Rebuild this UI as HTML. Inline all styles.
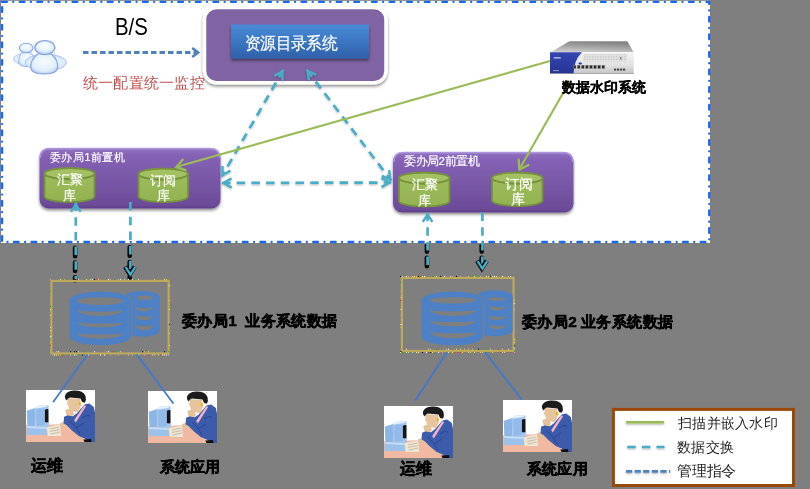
<!DOCTYPE html>
<html><head><meta charset="utf-8">
<style>
html,body{margin:0;padding:0;}
body{width:810px;height:489px;overflow:hidden;background:#7f7f7f;position:relative;font-family:"Liberation Sans",sans-serif;}
.t{position:absolute;white-space:nowrap;line-height:1;transform-origin:0 0;}
.sk{-webkit-text-stroke:0.45px #000;}
.sk2{-webkit-text-stroke:0.2px #000;}
.skw{-webkit-text-stroke:0.2px #fff;}
.w{color:#fff;font-size:11.7px;}
.c{color:#fff;font-size:13px;line-height:16px;text-align:center;width:60px;}
.b{font-weight:bold;color:#000;font-size:15.4px;}
.lg{color:#262626;font-size:14.6px;}
svg{position:absolute;left:0;top:0;}
</style></head><body>
<svg width="810" height="489" viewBox="0 0 810 489">
<defs>
  <linearGradient id="pg" x1="0" y1="0" x2="0" y2="1">
    <stop offset="0" stop-color="#9172c2"/>
    <stop offset="0.12" stop-color="#8562b5"/>
    <stop offset="0.93" stop-color="#6d4c99"/>
    <stop offset="1" stop-color="#5f3f8b"/>
  </linearGradient>
  <linearGradient id="bg" x1="0" y1="0" x2="0" y2="1">
    <stop offset="0" stop-color="#4a8bd8"/>
    <stop offset="1" stop-color="#2f61aa"/>
  </linearGradient>
  <linearGradient id="gc" x1="0" y1="0" x2="0" y2="1">
    <stop offset="0" stop-color="#9dbd5b"/>
    <stop offset="1" stop-color="#93b352"/>
  </linearGradient>
  <linearGradient id="srvtop" x1="0" y1="0" x2="1" y2="0">
    <stop offset="0" stop-color="#d8d8d8"/>
    <stop offset="0.5" stop-color="#8e8e8e"/>
    <stop offset="1" stop-color="#e6e6e6"/>
  </linearGradient>
  <linearGradient id="srvfr" x1="0" y1="0" x2="0" y2="1">
    <stop offset="0" stop-color="#f2f2f2"/>
    <stop offset="1" stop-color="#cfcfcf"/>
  </linearGradient>
  <filter id="lsh" filterUnits="userSpaceOnUse" x="600" y="400" width="210" height="89"><feGaussianBlur in="SourceAlpha" stdDeviation="0.8"/><feOffset dy="1.2"/><feComponentTransfer><feFuncA type="linear" slope="0.35"/></feComponentTransfer><feMerge><feMergeNode/><feMergeNode in="SourceGraphic"/></feMerge></filter>
  <filter id="dsh" filterUnits="userSpaceOnUse" x="0" y="0" width="810" height="489"><feGaussianBlur in="SourceAlpha" stdDeviation="0.9"/><feOffset dy="1.3" dx="0.3"/><feComponentTransfer><feFuncA type="linear" slope="0.3"/></feComponentTransfer><feMerge><feMergeNode/><feMergeNode in="SourceGraphic"/></feMerge></filter>
  <clipPath id="low"><rect x="0" y="243" width="810" height="246"/></clipPath>
  <clipPath id="up"><rect x="0" y="0" width="810" height="243"/></clipPath>
  <filter id="sh" x="-10%" y="-10%" width="120%" height="130%"><feGaussianBlur in="SourceAlpha" stdDeviation="1.5"/><feOffset dy="2"/><feComponentTransfer><feFuncA type="linear" slope="0.45"/></feComponentTransfer><feMerge><feMergeNode/><feMergeNode in="SourceGraphic"/></feMerge></filter>
</defs>
<rect x="1" y="0.8" width="709" height="242.2" fill="#fff"/>
<rect x="2.1" y="1.9" width="707.1" height="240.1" fill="none" stroke="#1a68f4" stroke-width="2.3" stroke-linecap="round" stroke-dasharray="4.8 6.4 0.01 6.4"/>
<defs>
  <radialGradient id="ug" cx="0.5" cy="0.4" r="0.65"><stop offset="0" stop-color="#f7fcff"/><stop offset="0.7" stop-color="#e0effd"/><stop offset="1" stop-color="#b4cbf1"/></radialGradient>
  <radialGradient id="ug2" cx="0.5" cy="0.35" r="0.7"><stop offset="0" stop-color="#fbfeff"/><stop offset="0.6" stop-color="#e3f1fd"/><stop offset="1" stop-color="#9fb9ea"/></radialGradient>
  <radialGradient id="ucape" cx="0.5" cy="0.5" r="0.6"><stop offset="0" stop-color="#f2f9ff"/><stop offset="1" stop-color="#d4e5fa"/></radialGradient>
</defs>
<g>
  <ellipse cx="24.6" cy="59" rx="11.2" ry="5.4" fill="url(#ucape)" stroke="#b5c9ef" stroke-width="0.9"/>
  <path d="M21,53.2 Q26.2,51.2 31.2,53.2 Q35.6,57 35.3,62.5 Q35,66.6 27,66.6 Q19,66.6 18.7,62.5 Q18.4,57 21,53.2 Z" fill="url(#ug)" stroke="#9fb6e8" stroke-width="1"/>
  <ellipse cx="26.2" cy="48" rx="6.8" ry="4.8" fill="url(#ug2)" stroke="#8ea9e3" stroke-width="1.1"/>
  <ellipse cx="45.8" cy="62.5" rx="20.5" ry="8.2" fill="url(#ucape)" stroke="#a9bfee" stroke-width="1"/>
  <path d="M37.5,54.2 Q44.5,51.8 51.5,54.2 Q58,59.5 57.7,67.5 Q57.3,73.8 44.2,73.8 Q31.2,73.8 30.8,67.5 Q30.5,59.5 37.5,54.2 Z" fill="url(#ug)" stroke="#8aa5e2" stroke-width="1.2"/>
  <ellipse cx="44.9" cy="47.6" rx="10.1" ry="7" fill="url(#ug2)" stroke="#86a2e0" stroke-width="1.3"/>
</g>
<line x1="83.0" y1="52.5" x2="196.0" y2="52.5" stroke="#4f81bd" stroke-width="3" stroke-dasharray="5.5 3"/>
<path d="M192.2,57.0 L198.2,52.5 L192.2,48.0" fill="none" stroke="#4f81bd" stroke-width="2.6" stroke-linejoin="miter" stroke-linecap="butt"/>
<g filter="url(#sh)"><rect x="204.5" y="7.6" width="181.5" height="75.2" rx="12" fill="#8064a2" stroke="#fff" stroke-width="3.5"/></g>
<g filter="url(#sh)"><rect x="231" y="24.5" width="138" height="34" fill="url(#bg)"/></g>
<g filter="url(#sh)"><rect x="39.5" y="148" width="181" height="60.5" rx="9" fill="url(#pg)"/></g>
<g filter="url(#sh)"><rect x="393" y="152" width="180.5" height="60.5" rx="9" fill="url(#pg)"/></g>
<path d="M40.2,158 Q40.2,148.6 49.5,148.6 L210.5,148.6 Q219.8,148.6 219.8,158" fill="none" stroke="#b39ae2" stroke-width="1.6" opacity="0.85"/>
<path d="M393.7,162 Q393.7,152.6 403,152.6 L563.5,152.6 Q572.8,152.6 572.8,162" fill="none" stroke="#b39ae2" stroke-width="1.6" opacity="0.85"/>
<path d="M44.5,173.5 A25.0,5.5 0 0 0 94.5,173.5 L94.5,196.5 A25.0,5.5 0 0 1 44.5,196.5 Z" fill="url(#gc)" stroke="#76923c" stroke-width="1.8"/>
<ellipse cx="69.5" cy="173.5" rx="25.0" ry="5.5" fill="#a3c162" stroke="#76923c" stroke-width="1.8"/>
<path d="M138.5,174.0 A24.75,5.5 0 0 0 188,174.0 L188,196.5 A24.75,5.5 0 0 1 138.5,196.5 Z" fill="url(#gc)" stroke="#76923c" stroke-width="1.8"/>
<ellipse cx="163.25" cy="174.0" rx="24.75" ry="5.5" fill="#a3c162" stroke="#76923c" stroke-width="1.8"/>
<path d="M399,178.0 A25.25,5.5 0 0 0 449.5,178.0 L449.5,201.0 A25.25,5.5 0 0 1 399,201.0 Z" fill="url(#gc)" stroke="#76923c" stroke-width="1.8"/>
<ellipse cx="424.25" cy="178.0" rx="25.25" ry="5.5" fill="#a3c162" stroke="#76923c" stroke-width="1.8"/>
<path d="M492,178.0 A25.25,5.5 0 0 0 542.5,178.0 L542.5,200.5 A25.25,5.5 0 0 1 492,200.5 Z" fill="url(#gc)" stroke="#76923c" stroke-width="1.8"/>
<ellipse cx="517.25" cy="178.0" rx="25.25" ry="5.5" fill="#a3c162" stroke="#76923c" stroke-width="1.8"/>
<g filter="url(#dsh)">
<line x1="283.3" y1="69.9" x2="221.7" y2="176.6" stroke="#4bacc6" stroke-width="2.7" stroke-dasharray="8.5 6.2"/>
<path d="M282.5,80.5 L282.5,71.3 L274.5,75.9" fill="none" stroke="#4bacc6" stroke-width="2.4" stroke-linejoin="miter" stroke-linecap="butt"/>
<path d="M222.5,166.0 L222.5,175.2 L230.5,170.6" fill="none" stroke="#4bacc6" stroke-width="2.4" stroke-linejoin="miter" stroke-linecap="butt"/>
</g>
<g filter="url(#dsh)">
<line x1="306.8" y1="69.9" x2="391.2" y2="180.6" stroke="#4bacc6" stroke-width="2.7" stroke-dasharray="8.5 6.2"/>
<path d="M316.2,74.7 L307.7,71.1 L308.9,80.3" fill="none" stroke="#4bacc6" stroke-width="2.4" stroke-linejoin="miter" stroke-linecap="butt"/>
<path d="M381.8,175.8 L390.3,179.4 L389.1,170.2" fill="none" stroke="#4bacc6" stroke-width="2.4" stroke-linejoin="miter" stroke-linecap="butt"/>
</g>
<g filter="url(#dsh)">
<line x1="222.0" y1="183.0" x2="391.0" y2="182.5" stroke="#4bacc6" stroke-width="2.7" stroke-dasharray="8.5 6.2"/>
<path d="M231.5,178.4 L223.5,183.0 L231.6,187.6" fill="none" stroke="#4bacc6" stroke-width="2.4" stroke-linejoin="miter" stroke-linecap="butt"/>
<path d="M381.5,187.1 L389.5,182.5 L381.4,177.9" fill="none" stroke="#4bacc6" stroke-width="2.4" stroke-linejoin="miter" stroke-linecap="butt"/>
</g>
<line x1="550" y1="61" x2="176" y2="167" stroke="#9bbb59" stroke-width="2.2"/>
<path d="M183.2,158.9 L176.2,167.1 L186.5,170.4" fill="none" stroke="#9bbb59" stroke-width="2.3" stroke-linejoin="miter" stroke-linecap="butt"/>
<line x1="570" y1="81" x2="519.5" y2="169" stroke="#9bbb59" stroke-width="2.2"/>
<path d="M518.6,158.7 L519.4,169.5 L529.1,164.6" fill="none" stroke="#9bbb59" stroke-width="2.3" stroke-linejoin="miter" stroke-linecap="butt"/>
<g clip-path="url(#low)" transform="translate(-0.7,1.2)"><line x1="75.8" y1="202.5" x2="75.8" y2="279.0" stroke="#0a0a0a" stroke-width="4.6" stroke-dasharray="8.5 6.2" stroke-linecap="round"/></g>
<line x1="75.8" y1="202.5" x2="75.8" y2="279.0" stroke="#4bacc6" stroke-width="2.7" stroke-dasharray="8.5 6.2"/>
<path d="M80.6,211.9 L75.8,204.4 L71.0,211.9" fill="none" stroke="#4bacc6" stroke-width="2.4" stroke-linejoin="miter" stroke-linecap="butt"/>
<g clip-path="url(#low)" transform="translate(-0.7,1.2)"><line x1="130.4" y1="202.0" x2="130.4" y2="276.5" stroke="#0a0a0a" stroke-width="4.6" stroke-dasharray="8.5 6.2" stroke-linecap="round"/></g>
<line x1="130.4" y1="202.0" x2="130.4" y2="276.5" stroke="#4bacc6" stroke-width="2.7" stroke-dasharray="8.5 6.2"/>
<g clip-path="url(#low)" transform="translate(-0.5,1.3)"><path d="M125.6,265.5 L130.4,273.0 L135.2,265.5" fill="none" stroke="#0a0a0a" stroke-width="4.4" stroke-linejoin="miter" stroke-linecap="butt"/></g>
<path d="M125.6,267.1 L130.4,274.6 L135.2,267.1" fill="none" stroke="#4bacc6" stroke-width="2.4" stroke-linejoin="miter" stroke-linecap="butt"/>
<g clip-path="url(#low)" transform="translate(-0.7,1.2)"><line x1="427.6" y1="212.5" x2="427.6" y2="270.5" stroke="#0a0a0a" stroke-width="4.6" stroke-dasharray="8.5 6.2" stroke-linecap="round"/></g>
<line x1="427.6" y1="212.5" x2="427.6" y2="270.5" stroke="#4bacc6" stroke-width="2.7" stroke-dasharray="8.5 6.2"/>
<path d="M432.4,221.9 L427.6,214.4 L422.8,221.9" fill="none" stroke="#4bacc6" stroke-width="2.4" stroke-linejoin="miter" stroke-linecap="butt"/>
<g clip-path="url(#low)" transform="translate(-0.7,1.2)"><line x1="482.4" y1="212.5" x2="482.4" y2="270.5" stroke="#0a0a0a" stroke-width="4.6" stroke-dasharray="8.5 6.2" stroke-linecap="round"/></g>
<line x1="482.4" y1="212.5" x2="482.4" y2="270.5" stroke="#4bacc6" stroke-width="2.7" stroke-dasharray="8.5 6.2"/>
<g clip-path="url(#low)" transform="translate(-0.5,1.3)"><path d="M477.6,259.5 L482.4,267.0 L487.2,259.5" fill="none" stroke="#0a0a0a" stroke-width="4.4" stroke-linejoin="miter" stroke-linecap="butt"/></g>
<path d="M477.6,261.1 L482.4,268.6 L487.2,261.1" fill="none" stroke="#4bacc6" stroke-width="2.4" stroke-linejoin="miter" stroke-linecap="butt"/>
<defs>
  <linearGradient id="st" x1="0" y1="1" x2="0.3" y2="0"><stop offset="0" stop-color="#d6d6d6"/><stop offset="0.5" stop-color="#ababab"/><stop offset="1" stop-color="#858585"/></linearGradient>
  <linearGradient id="sf" x1="0" y1="0" x2="0" y2="1"><stop offset="0" stop-color="#f4f4f4"/><stop offset="0.6" stop-color="#e2e2e2"/><stop offset="1" stop-color="#c4c4c4"/></linearGradient>
  <linearGradient id="sb" x1="0" y1="0" x2="0" y2="1"><stop offset="0" stop-color="#3546b0"/><stop offset="1" stop-color="#243494"/></linearGradient>
  <pattern id="grille" width="1.6" height="1.6" patternUnits="userSpaceOnUse"><rect width="1.6" height="1.6" fill="#e2e2e2"/><rect width="0.8" height="0.8" fill="#c0c0c0"/></pattern>
</defs>
<g>
 <path d="M569.5,41.2 L627.4,41.2 L633.8,52.4 L550,52.4 Z" fill="url(#st)"/>
 <rect x="550" y="52.2" width="83.8" height="21.5" fill="url(#sf)"/>
 <rect x="550" y="52.2" width="83.8" height="0.8" fill="#fafafa"/>
 <path d="M584,54 L627,54 L627,61.5 L583,61.5 Z" fill="url(#grille)" opacity="0.9"/>
 <path d="M550,52.2 L582,52.2 Q574,60 573.5,73.7 L550,73.7 Z" fill="url(#sb)"/>
 <rect x="553.8" y="57" width="7" height="1.6" fill="#c8d0f4" opacity="0.8"/>
 <rect x="553" y="70.2" width="6" height="0.9" fill="#aab"/>
 <rect x="578.5" y="62.4" width="3.4" height="2" rx="0.8" fill="#2a3da8"/>
 <rect x="573.2" y="65.2" width="2.8" height="3.4" fill="#2a2a2a" stroke="#999" stroke-width="0.4"/><rect x="577.3" y="65.2" width="2.8" height="3.4" fill="#2a2a2a" stroke="#999" stroke-width="0.4"/><rect x="581.4" y="65.2" width="2.8" height="3.4" fill="#2a2a2a" stroke="#999" stroke-width="0.4"/><rect x="585.5" y="65.2" width="2.8" height="3.4" fill="#2a2a2a" stroke="#999" stroke-width="0.4"/><rect x="589.6" y="65.2" width="2.8" height="3.4" fill="#2a2a2a" stroke="#999" stroke-width="0.4"/><rect x="593.7" y="65.2" width="2.8" height="3.4" fill="#2a2a2a" stroke="#999" stroke-width="0.4"/><rect x="597.8" y="65.2" width="2.8" height="3.4" fill="#2a2a2a" stroke="#999" stroke-width="0.4"/><rect x="601.9" y="65.2" width="2.8" height="3.4" fill="#2a2a2a" stroke="#999" stroke-width="0.4"/>
 <rect x="614.0" y="68.6" width="2.2" height="2" fill="#444"/><rect x="617.0" y="68.6" width="2.2" height="2" fill="#444"/><rect x="620.0" y="68.6" width="2.2" height="2" fill="#444"/><rect x="623.0" y="68.6" width="2.2" height="2" fill="#444"/>
 <rect x="620" y="57" width="1.5" height="2.5" fill="#888"/>
 <rect x="550" y="73.2" width="83.8" height="0.8" fill="#9a9a9a"/>
</g>
<rect x="51.4" y="280.9" width="117.2" height="72.50000000000001" fill="none" stroke="#bfaa5c" stroke-width="2.1"/><rect x="50" y="278.9" width="1" height="1" fill="#ff9090"/><rect x="52" y="354.5" width="1" height="1" fill="#ff9090"/><rect x="54" y="354.5" width="1" height="1" fill="#fff"/><rect x="56" y="354.5" width="1" height="1" fill="#ffff00"/><rect x="56" y="351.2" width="1" height="1" fill="#ffd000"/><rect x="58" y="354.5" width="1" height="1" fill="#ffd000"/><rect x="58" y="351.2" width="1" height="1" fill="#fff"/><rect x="60" y="278.9" width="1" height="1" fill="#ffff00"/><rect x="60" y="354.5" width="1" height="1" fill="#ffd000"/><rect x="62" y="354.5" width="1" height="1" fill="#ff2020"/><rect x="64" y="278.9" width="1" height="1" fill="#ff9090"/><rect x="66" y="278.9" width="1" height="1" fill="#00c000"/><rect x="70" y="354.5" width="1" height="1" fill="#e8e060"/><rect x="70" y="351.2" width="1" height="1" fill="#000"/><rect x="74" y="354.5" width="1" height="1" fill="#fff"/><rect x="74" y="351.2" width="1" height="1" fill="#000"/><rect x="76" y="278.9" width="1" height="1" fill="#ff2020"/><rect x="76" y="354.5" width="1" height="1" fill="#d0d0d0"/><rect x="76" y="351.2" width="1" height="1" fill="#000"/><rect x="78" y="278.9" width="1" height="1" fill="#d0d0d0"/><rect x="78" y="354.5" width="1" height="1" fill="#00c000"/><rect x="78" y="351.2" width="1" height="1" fill="#d0d0d0"/><rect x="82" y="354.5" width="1" height="1" fill="#000"/><rect x="84" y="278.9" width="1" height="1" fill="#00c000"/><rect x="84" y="351.2" width="1" height="1" fill="#00c000"/><rect x="86" y="278.9" width="1" height="1" fill="#e8e060"/><rect x="86" y="354.5" width="1" height="1" fill="#fff"/><rect x="88" y="354.5" width="1" height="1" fill="#ffff00"/><rect x="90" y="278.9" width="1" height="1" fill="#d0d0d0"/><rect x="92" y="278.9" width="1" height="1" fill="#fff"/><rect x="94" y="278.9" width="1" height="1" fill="#000"/><rect x="94" y="351.2" width="1" height="1" fill="#fff"/><rect x="96" y="278.9" width="1" height="1" fill="#ff2020"/><rect x="98" y="278.9" width="1" height="1" fill="#e8e060"/><rect x="100" y="354.5" width="1" height="1" fill="#fff"/><rect x="104" y="354.5" width="1" height="1" fill="#fff"/><rect x="106" y="351.2" width="1" height="1" fill="#ff9090"/><rect x="108" y="278.9" width="1" height="1" fill="#fff"/><rect x="108" y="354.5" width="1" height="1" fill="#00c000"/><rect x="108" y="351.2" width="1" height="1" fill="#fff"/><rect x="110" y="278.9" width="1" height="1" fill="#ff9090"/><rect x="110" y="354.5" width="1" height="1" fill="#ff9090"/><rect x="112" y="351.2" width="1" height="1" fill="#ff2020"/><rect x="114" y="278.9" width="1" height="1" fill="#00c000"/><rect x="114" y="351.2" width="1" height="1" fill="#00c000"/><rect x="116" y="351.2" width="1" height="1" fill="#00c000"/><rect x="118" y="278.9" width="1" height="1" fill="#ff9090"/><rect x="118" y="354.5" width="1" height="1" fill="#ff9090"/><rect x="120" y="278.9" width="1" height="1" fill="#fff"/><rect x="120" y="351.2" width="1" height="1" fill="#d0d0d0"/><rect x="124" y="278.9" width="1" height="1" fill="#d0d0d0"/><rect x="128" y="278.9" width="1" height="1" fill="#fff"/><rect x="128" y="354.5" width="1" height="1" fill="#d0d0d0"/><rect x="132" y="278.9" width="1" height="1" fill="#e8e060"/><rect x="132" y="354.5" width="1" height="1" fill="#d0d0d0"/><rect x="134" y="278.9" width="1" height="1" fill="#00c000"/><rect x="134" y="354.5" width="1" height="1" fill="#00c000"/><rect x="138" y="278.9" width="1" height="1" fill="#d0d0d0"/><rect x="138" y="354.5" width="1" height="1" fill="#ffff00"/><rect x="142" y="351.2" width="1" height="1" fill="#000"/><rect x="144" y="354.5" width="1" height="1" fill="#ff9090"/><rect x="144" y="351.2" width="1" height="1" fill="#ffd000"/><rect x="148" y="354.5" width="1" height="1" fill="#ff2020"/><rect x="148" y="351.2" width="1" height="1" fill="#ffff00"/><rect x="152" y="354.5" width="1" height="1" fill="#d0d0d0"/><rect x="154" y="278.9" width="1" height="1" fill="#ffd000"/><rect x="154" y="354.5" width="1" height="1" fill="#e8e060"/><rect x="154" y="351.2" width="1" height="1" fill="#00c000"/><rect x="158" y="354.5" width="1" height="1" fill="#ffff00"/><rect x="160" y="354.5" width="1" height="1" fill="#ff2020"/><rect x="162" y="354.5" width="1" height="1" fill="#fff"/><rect x="164" y="278.9" width="1" height="1" fill="#ffff00"/><rect x="164" y="354.5" width="1" height="1" fill="#fff"/><rect x="164" y="351.2" width="1" height="1" fill="#000"/><rect x="166" y="278.9" width="1" height="1" fill="#ffd000"/><rect x="166" y="354.5" width="1" height="1" fill="#fff"/><rect x="168" y="354.5" width="1" height="1" fill="#d0d0d0"/><rect x="168" y="351.2" width="1" height="1" fill="#00c000"/><rect x="169" y="285" width="1" height="1" fill="#fff"/><rect x="50" y="291" width="1" height="1" fill="#00c000"/><rect x="169" y="300" width="1" height="1" fill="#ffd000"/><rect x="50" y="306" width="1" height="1" fill="#00c000"/><rect x="50" y="309" width="1" height="1" fill="#ffff00"/><rect x="169" y="309" width="1" height="1" fill="#ffff00"/><rect x="50" y="315" width="1" height="1" fill="#e8e060"/><rect x="169" y="324" width="1" height="1" fill="#000"/><rect x="50" y="327" width="1" height="1" fill="#e8e060"/><rect x="50" y="330" width="1" height="1" fill="#e8e060"/><rect x="169" y="333" width="1" height="1" fill="#d0d0d0"/><rect x="50" y="336" width="1" height="1" fill="#fff"/><rect x="50" y="342" width="1" height="1" fill="#ffd000"/><rect x="50" y="345" width="1" height="1" fill="#ff2020"/><rect x="169" y="345" width="1" height="1" fill="#ffff00"/>
<rect x="401.9" y="277.9" width="111.7" height="73.00000000000001" fill="none" stroke="#bfaa5c" stroke-width="2.1"/><rect x="400" y="275.9" width="1" height="1" fill="#000"/><rect x="400" y="352.0" width="1" height="1" fill="#ffff00"/><rect x="402" y="275.9" width="1" height="1" fill="#d0d0d0"/><rect x="402" y="352.0" width="1" height="1" fill="#00c000"/><rect x="406" y="275.9" width="1" height="1" fill="#fff"/><rect x="406" y="352.0" width="1" height="1" fill="#e8e060"/><rect x="406" y="348.7" width="1" height="1" fill="#fff"/><rect x="408" y="275.9" width="1" height="1" fill="#ff9090"/><rect x="408" y="352.0" width="1" height="1" fill="#d0d0d0"/><rect x="410" y="352.0" width="1" height="1" fill="#00c000"/><rect x="412" y="275.9" width="1" height="1" fill="#e8e060"/><rect x="412" y="352.0" width="1" height="1" fill="#d0d0d0"/><rect x="414" y="275.9" width="1" height="1" fill="#ffff00"/><rect x="416" y="275.9" width="1" height="1" fill="#ffd000"/><rect x="416" y="352.0" width="1" height="1" fill="#ffff00"/><rect x="418" y="275.9" width="1" height="1" fill="#000"/><rect x="418" y="352.0" width="1" height="1" fill="#fff"/><rect x="420" y="275.9" width="1" height="1" fill="#ff2020"/><rect x="422" y="275.9" width="1" height="1" fill="#ffff00"/><rect x="422" y="352.0" width="1" height="1" fill="#000"/><rect x="424" y="275.9" width="1" height="1" fill="#fff"/><rect x="426" y="352.0" width="1" height="1" fill="#fff"/><rect x="428" y="352.0" width="1" height="1" fill="#ff2020"/><rect x="428" y="348.7" width="1" height="1" fill="#ffff00"/><rect x="430" y="352.0" width="1" height="1" fill="#000"/><rect x="430" y="348.7" width="1" height="1" fill="#e8e060"/><rect x="432" y="275.9" width="1" height="1" fill="#00c000"/><rect x="432" y="352.0" width="1" height="1" fill="#ffff00"/><rect x="436" y="275.9" width="1" height="1" fill="#ffff00"/><rect x="436" y="348.7" width="1" height="1" fill="#ff2020"/><rect x="438" y="352.0" width="1" height="1" fill="#fff"/><rect x="438" y="348.7" width="1" height="1" fill="#00c000"/><rect x="440" y="275.9" width="1" height="1" fill="#000"/><rect x="442" y="352.0" width="1" height="1" fill="#ff9090"/><rect x="444" y="275.9" width="1" height="1" fill="#fff"/><rect x="446" y="352.0" width="1" height="1" fill="#d0d0d0"/><rect x="446" y="348.7" width="1" height="1" fill="#ffd000"/><rect x="448" y="352.0" width="1" height="1" fill="#ffff00"/><rect x="448" y="348.7" width="1" height="1" fill="#fff"/><rect x="450" y="275.9" width="1" height="1" fill="#d0d0d0"/><rect x="452" y="275.9" width="1" height="1" fill="#ff9090"/><rect x="452" y="352.0" width="1" height="1" fill="#ffff00"/><rect x="454" y="352.0" width="1" height="1" fill="#ff2020"/><rect x="456" y="275.9" width="1" height="1" fill="#000"/><rect x="456" y="348.7" width="1" height="1" fill="#ffff00"/><rect x="458" y="352.0" width="1" height="1" fill="#ff2020"/><rect x="460" y="275.9" width="1" height="1" fill="#ff9090"/><rect x="460" y="352.0" width="1" height="1" fill="#ff2020"/><rect x="460" y="348.7" width="1" height="1" fill="#ffff00"/><rect x="462" y="352.0" width="1" height="1" fill="#ffff00"/><rect x="464" y="348.7" width="1" height="1" fill="#ffd000"/><rect x="468" y="275.9" width="1" height="1" fill="#ffd000"/><rect x="468" y="352.0" width="1" height="1" fill="#ffd000"/><rect x="468" y="348.7" width="1" height="1" fill="#e8e060"/><rect x="470" y="352.0" width="1" height="1" fill="#e8e060"/><rect x="472" y="275.9" width="1" height="1" fill="#00c000"/><rect x="472" y="348.7" width="1" height="1" fill="#ffd000"/><rect x="474" y="275.9" width="1" height="1" fill="#ffff00"/><rect x="474" y="352.0" width="1" height="1" fill="#ffff00"/><rect x="476" y="275.9" width="1" height="1" fill="#00c000"/><rect x="478" y="348.7" width="1" height="1" fill="#000"/><rect x="480" y="275.9" width="1" height="1" fill="#ff9090"/><rect x="480" y="352.0" width="1" height="1" fill="#ffd000"/><rect x="482" y="352.0" width="1" height="1" fill="#d0d0d0"/><rect x="482" y="348.7" width="1" height="1" fill="#00c000"/><rect x="486" y="275.9" width="1" height="1" fill="#ffff00"/><rect x="486" y="352.0" width="1" height="1" fill="#00c000"/><rect x="486" y="348.7" width="1" height="1" fill="#00c000"/><rect x="488" y="275.9" width="1" height="1" fill="#ffff00"/><rect x="490" y="275.9" width="1" height="1" fill="#000"/><rect x="490" y="348.7" width="1" height="1" fill="#e8e060"/><rect x="492" y="275.9" width="1" height="1" fill="#fff"/><rect x="492" y="352.0" width="1" height="1" fill="#ffd000"/><rect x="494" y="275.9" width="1" height="1" fill="#fff"/><rect x="496" y="275.9" width="1" height="1" fill="#e8e060"/><rect x="498" y="348.7" width="1" height="1" fill="#ff2020"/><rect x="500" y="352.0" width="1" height="1" fill="#ff2020"/><rect x="502" y="275.9" width="1" height="1" fill="#fff"/><rect x="502" y="352.0" width="1" height="1" fill="#e8e060"/><rect x="502" y="348.7" width="1" height="1" fill="#d0d0d0"/><rect x="504" y="352.0" width="1" height="1" fill="#d0d0d0"/><rect x="508" y="275.9" width="1" height="1" fill="#ff9090"/><rect x="508" y="348.7" width="1" height="1" fill="#ffff00"/><rect x="510" y="275.9" width="1" height="1" fill="#fff"/><rect x="510" y="352.0" width="1" height="1" fill="#ff2020"/><rect x="514" y="352.0" width="1" height="1" fill="#ff9090"/><rect x="400.5" y="282" width="1" height="1" fill="#00c000"/><rect x="400.5" y="291" width="1" height="1" fill="#ff9090"/><rect x="400.5" y="297" width="1" height="1" fill="#e8e060"/><rect x="400.5" y="300" width="1" height="1" fill="#ff2020"/><rect x="514" y="300" width="1" height="1" fill="#ffd000"/><rect x="514" y="303" width="1" height="1" fill="#fff"/><rect x="400.5" y="309" width="1" height="1" fill="#e8e060"/><rect x="514" y="309" width="1" height="1" fill="#ff9090"/><rect x="400.5" y="315" width="1" height="1" fill="#ff9090"/><rect x="400.5" y="324" width="1" height="1" fill="#fff"/><rect x="400.5" y="327" width="1" height="1" fill="#ffd000"/><rect x="514" y="339" width="1" height="1" fill="#ffff00"/><rect x="514" y="342" width="1" height="1" fill="#ffff00"/><rect x="514" y="345" width="1" height="1" fill="#000"/><rect x="514" y="348" width="1" height="1" fill="#d0d0d0"/><rect x="400.5" y="351" width="1" height="1" fill="#000"/><rect x="514" y="351" width="1" height="1" fill="#00c000"/>
<path d="M123,297.1 A18.349999999999994,6 0 0 1 159.7,297.1 L159.7,330.7 A18.349999999999994,6 0 0 1 123,330.7 Z" fill="#4d80c5"/><ellipse cx="144.5" cy="297.75" rx="8.5" ry="2.25" fill="#7f7f7f"/><path d="M135,306.6 A9.0,1.6 0 0 0 153,306.6 A9.0,4.799999999999978 0 0 1 135,306.6 Z" fill="#7f7f7f"/><path d="M135,315.0 A9.0,1.6 0 0 0 153,315.0 A9.0,5.3000000000000345 0 0 1 135,315.0 Z" fill="#7f7f7f"/><path d="M135,324.40000000000003 A9.0,1.6 0 0 0 153,324.40000000000003 A9.0,5.999999999999966 0 0 1 135,324.40000000000003 Z" fill="#7f7f7f"/>
<path d="M69.1,300.6 A31.35000000000001,9.5 0 0 1 131.8,300.6 L131.8,336.1 A31.35000000000001,9.5 0 0 1 69.1,336.1 Z" fill="#4d80c5" stroke="#7f7f7f" stroke-width="1"/><ellipse cx="99.80000000000001" cy="301.1" rx="23.1" ry="3.9000000000000057" fill="#7f7f7f"/><path d="M77,310.1 A23.0,1.6 0 0 0 123,310.1 A23.0,5.799999999999978 0 0 1 77,310.1 Z" fill="#7f7f7f"/><path d="M77,322.0 A23.0,1.6 0 0 0 123,322.0 A23.0,5.3000000000000345 0 0 1 77,322.0 Z" fill="#7f7f7f"/><path d="M77,332.8 A23.0,1.6 0 0 0 123,332.8 A23.0,5.9 0 0 1 77,332.8 Z" fill="#7f7f7f"/>
<path d="M475.9,296.3 A18.400000000000034,6 0 0 1 512.7,296.3 L512.7,330.2 A18.400000000000034,6 0 0 1 475.9,330.2 Z" fill="#4d80c5"/><ellipse cx="497.0" cy="298.95" rx="9.0" ry="1.75" fill="#7f7f7f"/><path d="M488,305.6 A9.0,1.6 0 0 0 506,305.6 A9.0,4.799999999999978 0 0 1 488,305.6 Z" fill="#7f7f7f"/><path d="M488,315.3 A9.0,1.6 0 0 0 506,315.3 A9.0,4.9 0 0 1 488,315.3 Z" fill="#7f7f7f"/><path d="M488,324.3 A9.0,1.6 0 0 0 506,324.3 A9.0,4.9 0 0 1 488,324.3 Z" fill="#7f7f7f"/>
<path d="M421,300.5 A31.25,9.5 0 0 1 483.5,300.5 L483.5,336.4 A31.25,9.5 0 0 1 421,336.4 Z" fill="#4d80c5" stroke="#7f7f7f" stroke-width="1"/><ellipse cx="452.95" cy="300.35" rx="22.94999999999999" ry="3.1500000000000057" fill="#7f7f7f"/><path d="M430,309.8 A23.0,1.6 0 0 0 476,309.8 A23.0,6.200000000000012 0 0 1 430,309.8 Z" fill="#7f7f7f"/><path d="M430,320.5 A23.0,1.6 0 0 0 476,320.5 A23.0,5.9 0 0 1 430,320.5 Z" fill="#7f7f7f"/><path d="M430,331.8 A23.0,1.6 0 0 0 476,331.8 A23.0,6.4 0 0 1 430,331.8 Z" fill="#7f7f7f"/>
<rect x="613.4" y="409.4" width="180.1" height="76.1" fill="#fff" stroke="#984807" stroke-width="3"/>
<line x1="626" y1="422.2" x2="664" y2="422.2" stroke="#9bbb59" stroke-width="2.6" filter="url(#lsh)"/>
<line x1="627.3" y1="447" x2="664.5" y2="447" stroke="#4bacc6" stroke-width="2.6" stroke-dasharray="8.4 6.2" filter="url(#lsh)"/>
<line x1="626" y1="471.4" x2="670.2" y2="471.4" stroke="#4f81bd" stroke-width="2.6" stroke-dasharray="6.2 2.4" filter="url(#lsh)"/>
</svg>
<svg style="left:26px;top:390px" width="69" height="52" viewBox="0 0 69 52" preserveAspectRatio="none">
<rect width="69" height="52" fill="#fff"/>
<path d="M0,35.5 L40,34 L62,52 L0,52 Z" fill="#f2b9a2"/>
<path d="M0.8,20.8 L9,18.1 L9.6,35.6 L1.4,37.3 Z" fill="#8db6e6"/>
<path d="M8.4,18.1 L11.9,15.7 L22.4,15.1 L23,35.5 L20.6,37.3 L9.6,37.3 Z" fill="#a3c6ef"/>
<path d="M8.4,18.1 L11.9,15.7 L22.4,15.1 L20,17 L10,18.6 Z" fill="#e8f2fc"/>
<path d="M10.5,19 L18.5,18.5 L19,35 L10.5,36 Z" fill="#92bbea"/>
<path d="M18.9,19.8 Q20.5,18.8 22.4,19.2 L22.4,32.1 Q20.5,32.8 18.9,32 Z" fill="#151515"/>
<path d="M0.8,36 L20.6,37.3 L21.2,45 L0.8,44.9 Z" fill="#9cc1eb"/>
<path d="M0.8,36 L20.6,37.3 L21,39 L0.8,38 Z" fill="#c4dcf5"/>
<path d="M20.6,37.3 L34,34.4 L35.2,46 L21.8,46 Z" fill="#ede6d2"/>
<path d="M24,39 L33,37 M24,41.5 L33.5,39.5 M24.5,44 L34,42" stroke="#b5ab98" stroke-width="0.7"/>
<path d="M34,33 Q37,31.5 41,33 L41,37.3 L35,37 Z" fill="#e4c39c"/>
<path d="M38.1,26.8 L42.2,25 L46.9,26.2 L50.9,23.3 L58.5,14.6 L63.2,13.4 L67.8,16.9 L69,22.7 L69,52 L63.2,52 L58.5,48.4 L52.7,46 L45.7,40.2 L41,35.5 L37.5,33.2 Z" fill="#3d5bab"/>
<path d="M44,31 Q50,36 54,44 M56,28 Q60,24 64,26 M50,38 L58,33" stroke="#263f88" stroke-width="0.8" fill="none"/>
<path d="M48.2,30 L58.2,15.2 L60.2,16 L49.8,32.5 Z" fill="#f3b3c9"/>
<path d="M42,8 L41.5,12 L40.5,13.5 L42,15 L43,19 L47,21.5 L52,22 L55,16 L54,9 Z" fill="#e6c59e"/>
<path d="M39.3,20 Q42,18.2 46,19.5 L48,24 L46,26.2 L40.5,25 Z" fill="#e3c199"/>
<path d="M38.8,6.5 Q40,1.2 48,0.6 Q57,0.4 59.5,6 Q60.5,10 59,12.5 Q56.5,13 55.5,11 L54.5,8.5 Q49,7.8 44,7.5 Q41.5,8 40.8,10.5 Q39,9.5 38.8,6.5 Z" fill="#1b1b1b"/>
<circle cx="53.8" cy="13.6" r="1.3" fill="#e8b500"/>
<path d="M57.3,49.5 L65,49 L65.5,52 L58.5,52 Z" fill="#111"/>
</svg>
<svg style="left:148px;top:390.5px" width="69" height="52" viewBox="0 0 69 52" preserveAspectRatio="none">
<rect width="69" height="52" fill="#fff"/>
<path d="M0,35.5 L40,34 L62,52 L0,52 Z" fill="#f2b9a2"/>
<path d="M0.8,20.8 L9,18.1 L9.6,35.6 L1.4,37.3 Z" fill="#8db6e6"/>
<path d="M8.4,18.1 L11.9,15.7 L22.4,15.1 L23,35.5 L20.6,37.3 L9.6,37.3 Z" fill="#a3c6ef"/>
<path d="M8.4,18.1 L11.9,15.7 L22.4,15.1 L20,17 L10,18.6 Z" fill="#e8f2fc"/>
<path d="M10.5,19 L18.5,18.5 L19,35 L10.5,36 Z" fill="#92bbea"/>
<path d="M18.9,19.8 Q20.5,18.8 22.4,19.2 L22.4,32.1 Q20.5,32.8 18.9,32 Z" fill="#151515"/>
<path d="M0.8,36 L20.6,37.3 L21.2,45 L0.8,44.9 Z" fill="#9cc1eb"/>
<path d="M0.8,36 L20.6,37.3 L21,39 L0.8,38 Z" fill="#c4dcf5"/>
<path d="M20.6,37.3 L34,34.4 L35.2,46 L21.8,46 Z" fill="#ede6d2"/>
<path d="M24,39 L33,37 M24,41.5 L33.5,39.5 M24.5,44 L34,42" stroke="#b5ab98" stroke-width="0.7"/>
<path d="M34,33 Q37,31.5 41,33 L41,37.3 L35,37 Z" fill="#e4c39c"/>
<path d="M38.1,26.8 L42.2,25 L46.9,26.2 L50.9,23.3 L58.5,14.6 L63.2,13.4 L67.8,16.9 L69,22.7 L69,52 L63.2,52 L58.5,48.4 L52.7,46 L45.7,40.2 L41,35.5 L37.5,33.2 Z" fill="#3d5bab"/>
<path d="M44,31 Q50,36 54,44 M56,28 Q60,24 64,26 M50,38 L58,33" stroke="#263f88" stroke-width="0.8" fill="none"/>
<path d="M48.2,30 L58.2,15.2 L60.2,16 L49.8,32.5 Z" fill="#f3b3c9"/>
<path d="M42,8 L41.5,12 L40.5,13.5 L42,15 L43,19 L47,21.5 L52,22 L55,16 L54,9 Z" fill="#e6c59e"/>
<path d="M39.3,20 Q42,18.2 46,19.5 L48,24 L46,26.2 L40.5,25 Z" fill="#e3c199"/>
<path d="M38.8,6.5 Q40,1.2 48,0.6 Q57,0.4 59.5,6 Q60.5,10 59,12.5 Q56.5,13 55.5,11 L54.5,8.5 Q49,7.8 44,7.5 Q41.5,8 40.8,10.5 Q39,9.5 38.8,6.5 Z" fill="#1b1b1b"/>
<circle cx="53.8" cy="13.6" r="1.3" fill="#e8b500"/>
<path d="M57.3,49.5 L65,49 L65.5,52 L58.5,52 Z" fill="#111"/>
</svg>
<svg style="left:384px;top:405.5px" width="69" height="52" viewBox="0 0 69 52" preserveAspectRatio="none">
<rect width="69" height="52" fill="#fff"/>
<path d="M0,35.5 L40,34 L62,52 L0,52 Z" fill="#f2b9a2"/>
<path d="M0.8,20.8 L9,18.1 L9.6,35.6 L1.4,37.3 Z" fill="#8db6e6"/>
<path d="M8.4,18.1 L11.9,15.7 L22.4,15.1 L23,35.5 L20.6,37.3 L9.6,37.3 Z" fill="#a3c6ef"/>
<path d="M8.4,18.1 L11.9,15.7 L22.4,15.1 L20,17 L10,18.6 Z" fill="#e8f2fc"/>
<path d="M10.5,19 L18.5,18.5 L19,35 L10.5,36 Z" fill="#92bbea"/>
<path d="M18.9,19.8 Q20.5,18.8 22.4,19.2 L22.4,32.1 Q20.5,32.8 18.9,32 Z" fill="#151515"/>
<path d="M0.8,36 L20.6,37.3 L21.2,45 L0.8,44.9 Z" fill="#9cc1eb"/>
<path d="M0.8,36 L20.6,37.3 L21,39 L0.8,38 Z" fill="#c4dcf5"/>
<path d="M20.6,37.3 L34,34.4 L35.2,46 L21.8,46 Z" fill="#ede6d2"/>
<path d="M24,39 L33,37 M24,41.5 L33.5,39.5 M24.5,44 L34,42" stroke="#b5ab98" stroke-width="0.7"/>
<path d="M34,33 Q37,31.5 41,33 L41,37.3 L35,37 Z" fill="#e4c39c"/>
<path d="M38.1,26.8 L42.2,25 L46.9,26.2 L50.9,23.3 L58.5,14.6 L63.2,13.4 L67.8,16.9 L69,22.7 L69,52 L63.2,52 L58.5,48.4 L52.7,46 L45.7,40.2 L41,35.5 L37.5,33.2 Z" fill="#3d5bab"/>
<path d="M44,31 Q50,36 54,44 M56,28 Q60,24 64,26 M50,38 L58,33" stroke="#263f88" stroke-width="0.8" fill="none"/>
<path d="M48.2,30 L58.2,15.2 L60.2,16 L49.8,32.5 Z" fill="#f3b3c9"/>
<path d="M42,8 L41.5,12 L40.5,13.5 L42,15 L43,19 L47,21.5 L52,22 L55,16 L54,9 Z" fill="#e6c59e"/>
<path d="M39.3,20 Q42,18.2 46,19.5 L48,24 L46,26.2 L40.5,25 Z" fill="#e3c199"/>
<path d="M38.8,6.5 Q40,1.2 48,0.6 Q57,0.4 59.5,6 Q60.5,10 59,12.5 Q56.5,13 55.5,11 L54.5,8.5 Q49,7.8 44,7.5 Q41.5,8 40.8,10.5 Q39,9.5 38.8,6.5 Z" fill="#1b1b1b"/>
<circle cx="53.8" cy="13.6" r="1.3" fill="#e8b500"/>
<path d="M57.3,49.5 L65,49 L65.5,52 L58.5,52 Z" fill="#111"/>
</svg>
<svg style="left:503px;top:399.5px" width="69" height="52" viewBox="0 0 69 52" preserveAspectRatio="none">
<rect width="69" height="52" fill="#fff"/>
<path d="M0,35.5 L40,34 L62,52 L0,52 Z" fill="#f2b9a2"/>
<path d="M0.8,20.8 L9,18.1 L9.6,35.6 L1.4,37.3 Z" fill="#8db6e6"/>
<path d="M8.4,18.1 L11.9,15.7 L22.4,15.1 L23,35.5 L20.6,37.3 L9.6,37.3 Z" fill="#a3c6ef"/>
<path d="M8.4,18.1 L11.9,15.7 L22.4,15.1 L20,17 L10,18.6 Z" fill="#e8f2fc"/>
<path d="M10.5,19 L18.5,18.5 L19,35 L10.5,36 Z" fill="#92bbea"/>
<path d="M18.9,19.8 Q20.5,18.8 22.4,19.2 L22.4,32.1 Q20.5,32.8 18.9,32 Z" fill="#151515"/>
<path d="M0.8,36 L20.6,37.3 L21.2,45 L0.8,44.9 Z" fill="#9cc1eb"/>
<path d="M0.8,36 L20.6,37.3 L21,39 L0.8,38 Z" fill="#c4dcf5"/>
<path d="M20.6,37.3 L34,34.4 L35.2,46 L21.8,46 Z" fill="#ede6d2"/>
<path d="M24,39 L33,37 M24,41.5 L33.5,39.5 M24.5,44 L34,42" stroke="#b5ab98" stroke-width="0.7"/>
<path d="M34,33 Q37,31.5 41,33 L41,37.3 L35,37 Z" fill="#e4c39c"/>
<path d="M38.1,26.8 L42.2,25 L46.9,26.2 L50.9,23.3 L58.5,14.6 L63.2,13.4 L67.8,16.9 L69,22.7 L69,52 L63.2,52 L58.5,48.4 L52.7,46 L45.7,40.2 L41,35.5 L37.5,33.2 Z" fill="#3d5bab"/>
<path d="M44,31 Q50,36 54,44 M56,28 Q60,24 64,26 M50,38 L58,33" stroke="#263f88" stroke-width="0.8" fill="none"/>
<path d="M48.2,30 L58.2,15.2 L60.2,16 L49.8,32.5 Z" fill="#f3b3c9"/>
<path d="M42,8 L41.5,12 L40.5,13.5 L42,15 L43,19 L47,21.5 L52,22 L55,16 L54,9 Z" fill="#e6c59e"/>
<path d="M39.3,20 Q42,18.2 46,19.5 L48,24 L46,26.2 L40.5,25 Z" fill="#e3c199"/>
<path d="M38.8,6.5 Q40,1.2 48,0.6 Q57,0.4 59.5,6 Q60.5,10 59,12.5 Q56.5,13 55.5,11 L54.5,8.5 Q49,7.8 44,7.5 Q41.5,8 40.8,10.5 Q39,9.5 38.8,6.5 Z" fill="#1b1b1b"/>
<circle cx="53.8" cy="13.6" r="1.3" fill="#e8b500"/>
<path d="M57.3,49.5 L65,49 L65.5,52 L58.5,52 Z" fill="#111"/>
</svg>
<svg width="810" height="489" viewBox="0 0 810 489"><line x1="87.4" y1="354.5" x2="53" y2="402.3" stroke="#3f77d2" stroke-width="1.7"/>
<line x1="136.7" y1="354.5" x2="173.4" y2="403.4" stroke="#3f77d2" stroke-width="1.7"/>
<line x1="447" y1="352.2" x2="415" y2="401" stroke="#3f77d2" stroke-width="1.7"/>
<line x1="485.1" y1="352.2" x2="521.7" y2="399.4" stroke="#3f77d2" stroke-width="1.7"/></svg>
<div class="t" style="left:114.76px;top:15.45px;font-size:22px;color:#000;font-weight:normal;transform:scale(0.9274,1.1040);">B/S</div>
<div class="t" style="left:82.93px;top:74.54px;font-size:15px;color:#c0504d;font-weight:normal;transform:scale(1.0155,1.0155);">统一配置统一监控</div>
<div class="t skw" style="left:245.04px;top:35.94px;font-size:16px;color:#fff;font-weight:normal;transform:scale(0.9581,1.0338);">资源目录系统</div>
<div class="t skw" style="left:50.04px;top:151.45px;font-size:12px;color:#fff;font-weight:normal;transform:scale(0.9538,0.9538);">委办局1前置机</div>
<div class="t skw" style="left:403.79px;top:154.97px;font-size:12px;color:#fff;font-weight:normal;transform:scale(0.9597,0.9597);">委办局2前置机</div>
<div class="t skw" style="left:56.68px;top:173.49px;font-size:13px;color:#fff;font-weight:normal;transform:scale(0.9655,0.9655);">汇聚</div>
<div class="t skw" style="left:63.28px;top:189.18px;font-size:13px;color:#fff;font-weight:normal;transform:scale(0.9689,0.9689);">库</div>
<div class="t skw" style="left:149.93px;top:173.71px;font-size:13px;color:#fff;font-weight:normal;transform:scale(1.0238,1.0238);">订阅</div>
<div class="t skw" style="left:156.69px;top:189.42px;font-size:13px;color:#fff;font-weight:normal;transform:scale(1.0312,1.0312);">库</div>
<div class="t skw" style="left:411.75px;top:177.97px;font-size:13px;color:#fff;font-weight:normal;transform:scale(0.9935,0.9935);">汇聚</div>
<div class="t skw" style="left:418.03px;top:193.83px;font-size:13px;color:#fff;font-weight:normal;transform:scale(0.9845,0.9845);">库</div>
<div class="t skw" style="left:505.09px;top:177.49px;font-size:13px;color:#fff;font-weight:normal;transform:scale(1.0525,1.0525);">订阅</div>
<div class="t skw" style="left:511.08px;top:193.38px;font-size:13px;color:#fff;font-weight:normal;transform:scale(1.0443,1.0443);">库</div>
<div class="t sk2" style="left:561.96px;top:80.34px;font-size:14px;color:#000;font-weight:bold;transform:scale(0.9989,0.9989);">数据水印系统</div>
<div class="t sk" style="left:182.02px;top:313.35px;font-size:15px;color:#000;font-weight:bold;transform:scale(1.0264,1.0264);">委办局1&nbsp;&nbsp;业务系统数据</div>
<div class="t sk" style="left:521.90px;top:313.54px;font-size:15px;color:#000;font-weight:bold;transform:scale(1.0261,1.0261);">委办局2 业务系统数据</div>
<div class="t sk" style="left:31.17px;top:456.76px;font-size:15px;color:#000;font-weight:bold;transform:scale(1.0633,1.0633);">运维</div>
<div class="t sk" style="left:159.86px;top:459.44px;font-size:15px;color:#000;font-weight:bold;transform:scale(1.0030,1.0030);">系统应用</div>
<div class="t sk" style="left:399.86px;top:459.94px;font-size:15px;color:#000;font-weight:bold;transform:scale(1.0698,1.0698);">运维</div>
<div class="t sk" style="left:527.06px;top:460.61px;font-size:15px;color:#000;font-weight:bold;transform:scale(1.0130,1.0130);">系统应用</div>
<div class="t" style="left:677.94px;top:415.60px;font-size:14px;color:#262626;font-weight:normal;transform:scale(1.0194,1.0194);">扫描并嵌入水印</div>
<div class="t" style="left:677.24px;top:440.29px;font-size:14px;color:#262626;font-weight:normal;transform:scale(1.0342,1.0342);">数据交换</div>
<div class="t" style="left:676.81px;top:463.04px;font-size:14px;color:#262626;font-weight:normal;transform:scale(1.0564,1.0564);">管理指令</div>
</body></html>
